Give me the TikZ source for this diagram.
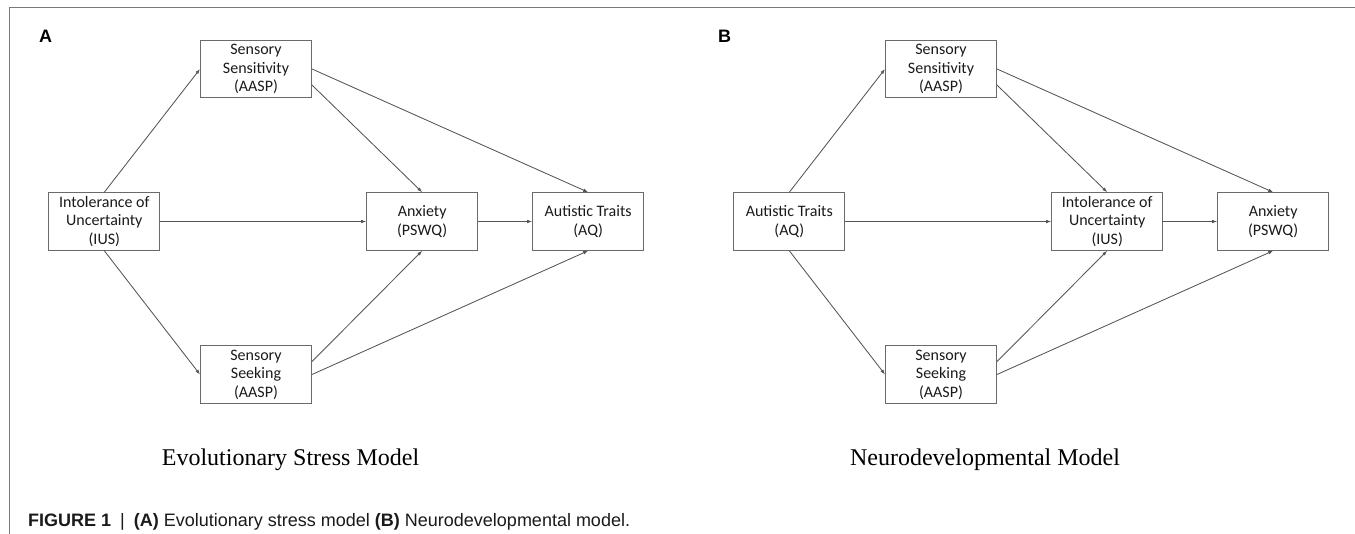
\documentclass[tikz,border=0pt]{standalone}
\usepackage{fontspec}
\setmainfont{Liberation Serif}
\newfontfamily\boxfamily{Carlito}
\newfontfamily\capfamily{Liberation Sans}
\usetikzlibrary{arrows.meta}

\definecolor{boxgray}{HTML}{6A6A6A}
\definecolor{linegray}{HTML}{555555}
\definecolor{framegray}{HTML}{7A7A7A}
\definecolor{inkdark}{HTML}{1A1A1A}

\newcommand{\diagfont}{\boxfamily\fontsize{16}{18.5}\selectfont}
\newcommand{\panelfont}{\capfamily\bfseries\fontsize{18}{20}\selectfont}
\newcommand{\titlefont}{\fontsize{24}{28}\selectfont}
\newcommand{\captionfont}{\capfamily\fontsize{18}{20}\selectfont}

\begin{document}
\begin{tikzpicture}[x=1pt,y=-1pt,
    box/.style={draw=boxgray, line width=1pt, minimum width=111pt, minimum height=57.5pt,
                inner sep=0pt, align=center, text=inkdark, font=\diagfont},
    arr/.style={draw=linegray, line width=0.85pt, -{Latex[length=5pt,width=3.6pt]}}]
     \useasboundingbox (0,0) rectangle (1355,534);
     \draw[framegray, line width=1pt] (9,534) -- (9,7.3) -- (1355,7.3);

     % panel A
     \node[font=\panelfont] (labA) at (45.5,36) {A};
     \node[box] (ius)  at (104.3,221.5) {Intolerance of\\Uncertainty\\(IUS)};
     \node[box] (sens) at (256,69)      {Sensory\\Sensitivity\\(AASP)};
     \node[box] (seek) at (256,374.5)   {Sensory\\Seeking\\(AASP)};
     \node[box] (anx)  at (422.2,221.5) {Anxiety\\(PSWQ)};
     \node[box] (aq)   at (588.2,221.5) {Autistic Traits\\(AQ)};

     \draw[arr] (ius.north) -- (sens.west);
     \draw[arr] (ius.south) -- (seek.west);
     \draw[arr] (ius) -- (anx);
     \draw[arr] (sens.-16) -- (anx.north);
     \draw[arr] (sens.east) -- (aq.north);
     \draw[arr] (seek.13) -- (anx.south);
     \draw[arr] (seek.east) -- (aq.south);
     \draw[arr] (anx) -- (aq);

     \node[font=\titlefont, anchor=base] (titA) at (290.5,465) {Evolutionary Stress Model};

     % panel B
     \node[font=\panelfont] (labB) at (724.5,36) {B};
     \node[box] (aqb)   at (789.3,221.5)  {Autistic Traits\\(AQ)};
     \node[box] (sensb) at (941,69)       {Sensory\\Sensitivity\\(AASP)};
     \node[box] (seekb) at (941,374.5)    {Sensory\\Seeking\\(AASP)};
     \node[box] (iusb)  at (1107.2,221.5) {Intolerance of\\Uncertainty\\(IUS)};
     \node[box] (anxb)  at (1273.2,221.5) {Anxiety\\(PSWQ)};

     \draw[arr] (aqb.north) -- (sensb.west);
     \draw[arr] (aqb.south) -- (seekb.west);
     \draw[arr] (aqb) -- (iusb);
     \draw[arr] (sensb.-16) -- (iusb.north);
     \draw[arr] (sensb.east) -- (anxb.north);
     \draw[arr] (seekb.13) -- (iusb.south);
     \draw[arr] (seekb.east) -- (anxb.south);
     \draw[arr] (iusb) -- (anxb);

     \node[font=\titlefont, anchor=base] (titB) at (985,465) {Neurodevelopmental Model};

     % caption
     \node[font=\captionfont, anchor=base west, inner sep=0pt, text=inkdark] (cap) at (28,526)
          {\textbf{FIGURE 1}\enspace|\enspace\textbf{(A)} Evolutionary stress model \textbf{(B)} Neurodevelopmental model.};
\end{tikzpicture}
\end{document}
